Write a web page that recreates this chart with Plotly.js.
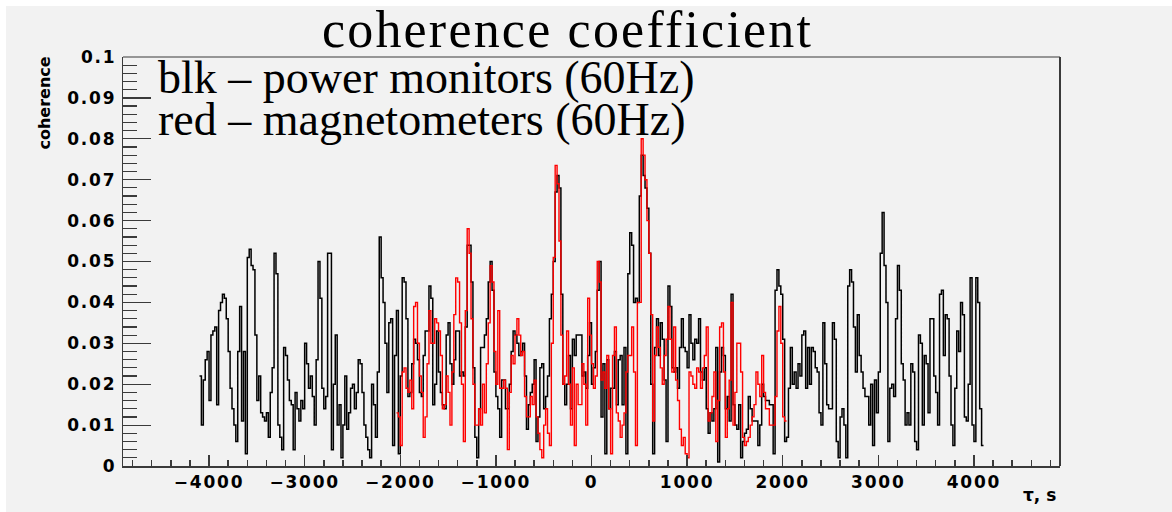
<!DOCTYPE html>
<html>
<head>
<meta charset="utf-8">
<script src="https://cdn.plot.ly/plotly-3.0.1.min.js"></script>
<style>
  html, body { margin: 0; padding: 0; background: #ffffff; }
  #chart { position: absolute; left: 0; top: 0; width: 1172px; height: 512px; }
  .edge { position: absolute; background: #ffffff; z-index: 5; }
  #edgeTop { left: 0; top: 0; width: 1172px; height: 6px; }
  #edgeLeft { left: 0; top: 0; width: 6px; height: 512px; }
  .xtick text, .ytick text { letter-spacing: 1.8px; }
  .annotation[data-index="0"] text { letter-spacing: 2.2px; }
</style>
</head>
<body>
<div id="chart"></div>
<div class="edge" id="edgeTop"></div>
<div class="edge" id="edgeLeft"></div>
<script>
// Histogram binning (seconds)
const binWidth = 20;
const blackStart = -4100;   // power monitors
const redStart = -2040;     // magnetometers

// Coherence per 20 s lag bin, power monitors (60 Hz)
const blackCoherence = [
  0.022, 0.010, 0.021, 0.026, 0.028, 0.016, 0.032, 0.033, 0.034, 0.015,
  0.038, 0.040, 0.042, 0.041, 0.036, 0.028, 0.019, 0.014, 0.010, 0.006,
  0.028, 0.039, 0.011, 0.028, 0.003, 0.051, 0.053, 0.049, 0.048, 0.032,
  0.016, 0.022, 0.013, 0.012, 0.011, 0.013, 0.007, 0.018, 0.024, 0.052,
  0.047, 0.010, 0.007, 0.004, 0.029, 0.027, 0.021, 0.016, 0.015, 0.004,
  0.018, 0.014, 0.011, 0.016, 0.014, 0.030, 0.025, 0.019, 0.022, 0.017,
  0.010, 0.026, 0.050, 0.041, 0.019, 0.014, 0.017, 0.052, 0.052, 0.004,
  0.020, 0.032, 0.010, 0.015, 0.002, 0.010, 0.022, 0.009, 0.013, 0.019,
  0.020, 0.014, 0.018, 0.026, 0.025, 0.018, 0.010, 0.007, 0.004, 0.002,
  0.020, 0.015, 0.007, 0.023, 0.056, 0.046, 0.040, 0.030, 0.018, 0.035,
  0.036, 0.005, 0.027, 0.038, 0.003, 0.022, 0.046, 0.045, 0.036, 0.017,
  0.018, 0.025, 0.031, 0.030, 0.026, 0.018, 0.017, 0.027, 0.033, 0.033,
  0.044, 0.041, 0.015, 0.020, 0.033, 0.023, 0.018, 0.015, 0.014, 0.032,
  0.035, 0.025, 0.020, 0.026, 0.033, 0.033, 0.022, 0.023, 0.022, 0.034,
  0.054, 0.054, 0.045, 0.024, 0.007, 0.002, 0.014, 0.029, 0.029, 0.032,
  0.036, 0.045, 0.050, 0.043, 0.023, 0.017, 0.014, 0.007, 0.021, 0.021,
  0.014, 0.014, 0.020, 0.028, 0.033, 0.032, 0.030, 0.027, 0.028, 0.030,
  0.022, 0.009, 0.015, 0.018, 0.020, 0.026, 0.006, 0.012, 0.024, 0.025,
  0.014, 0.017, 0.022, 0.036, 0.042, 0.050, 0.067, 0.071, 0.068, 0.042,
  0.020, 0.015, 0.020, 0.027, 0.014, 0.031, 0.027, 0.032, 0.032, 0.032,
  0.022, 0.023, 0.019, 0.027, 0.035, 0.020, 0.024, 0.028, 0.043, 0.050,
  0.012, 0.025, 0.003, 0.026, 0.014, 0.019, 0.019, 0.028, 0.015, 0.026,
  0.027, 0.015, 0.029, 0.003, 0.047, 0.057, 0.054, 0.040, 0.041, 0.040,
  0.066, 0.076, 0.071, 0.068, 0.063, 0.052, 0.020, 0.003, 0.029, 0.036,
  0.027, 0.035, 0.031, 0.021, 0.006, 0.044, 0.039, 0.024, 0.023, 0.024,
  0.019, 0.029, 0.036, 0.029, 0.028, 0.024, 0.037, 0.030, 0.026, 0.031,
  0.030, 0.036, 0.023, 0.021, 0.024, 0.014, 0.008, 0.013, 0.011, 0.014,
  0.029, 0.001, 0.023, 0.029, 0.027, 0.014, 0.017, 0.011, 0.042, 0.015,
  0.010, 0.009, 0.015, 0.002, 0.006, 0.008, 0.009, 0.017, 0.014, 0.011,
  0.011, 0.011, 0.005, 0.010, 0.020, 0.017, 0.016, 0.016, 0.015, 0.015,
  0.003, 0.043, 0.048, 0.044, 0.042, 0.031, 0.006, 0.007, 0.019, 0.029,
  0.020, 0.023, 0.019, 0.025, 0.022, 0.032, 0.033, 0.019, 0.029, 0.020,
  0.029, 0.028, 0.024, 0.023, 0.013, 0.010, 0.035, 0.025, 0.015, 0.014,
  0.014, 0.035, 0.031, 0.006, 0.002, 0.012, 0.014, 0.010, 0.002, 0.044,
  0.048, 0.045, 0.034, 0.023, 0.037, 0.027, 0.023, 0.019, 0.017, 0.017,
  0.010, 0.020, 0.005, 0.021, 0.013, 0.023, 0.052, 0.062, 0.049, 0.040,
  0.006, 0.019, 0.020, 0.017, 0.036, 0.049, 0.043, 0.025, 0.021, 0.010,
  0.013, 0.010, 0.025, 0.023, 0.006, 0.004, 0.032, 0.030, 0.010, 0.027,
  0.025, 0.013, 0.036, 0.036, 0.022, 0.018, 0.010, 0.042, 0.043, 0.027,
  0.037, 0.036, 0.022, 0.010, 0.005, 0.019, 0.033, 0.028, 0.040, 0.037,
  0.012, 0.011, 0.020, 0.046, 0.010, 0.006, 0.046, 0.040, 0.014, 0.005
];

// Coherence per 20 s lag bin, magnetometers (60 Hz)
const redCoherence = [
  0.013, 0.012, 0.005, 0.023, 0.024, 0.019, 0.018, 0.021, 0.014, 0.039,
  0.040, 0.030, 0.022, 0.018, 0.007, 0.012, 0.025, 0.038, 0.030, 0.030,
  0.036, 0.035, 0.033, 0.027, 0.014, 0.015, 0.022, 0.018, 0.010, 0.023,
  0.037, 0.046, 0.045, 0.035, 0.020, 0.006, 0.038, 0.058, 0.052, 0.036,
  0.020, 0.010, 0.010, 0.014, 0.010, 0.020, 0.013, 0.025, 0.035, 0.049,
  0.045, 0.028, 0.020, 0.038, 0.019, 0.019, 0.021, 0.019, 0.004, 0.018,
  0.027, 0.025, 0.032, 0.036, 0.032, 0.027, 0.028, 0.017, 0.012, 0.012,
  0.017, 0.015, 0.021, 0.012, 0.008, 0.004, 0.002, 0.010, 0.014, 0.008,
  0.005, 0.030, 0.051, 0.0735, 0.069, 0.055, 0.032, 0.020, 0.022, 0.033,
  0.020, 0.010, 0.024, 0.005, 0.020, 0.015, 0.015, 0.025, 0.020, 0.010,
  0.041, 0.032, 0.025, 0.019, 0.022, 0.050, 0.045, 0.021, 0.023, 0.019,
  0.027, 0.014, 0.003, 0.027, 0.034, 0.013, 0.011, 0.007, 0.010, 0.013,
  0.023, 0.027, 0.027, 0.034, 0.023, 0.005, 0.040, 0.040, 0.080, 0.076,
  0.070, 0.060, 0.052, 0.037, 0.011, 0.027, 0.034, 0.029, 0.024, 0.020,
  0.027, 0.031, 0.039, 0.031, 0.023, 0.034, 0.021, 0.016, 0.009, 0.005,
  0.007, 0.003, 0.002, 0.023, 0.022, 0.020, 0.019, 0.024, 0.023, 0.019,
  0.024, 0.027, 0.034, 0.011, 0.013, 0.017, 0.023, 0.006, 0.016, 0.034,
  0.035, 0.023, 0.007, 0.014, 0.021, 0.040, 0.010, 0.018, 0.030, 0.030,
  0.023, 0.007, 0.005, 0.006, 0.007, 0.010, 0.012, 0.015, 0.023, 0.020,
  0.017, 0.027, 0.018, 0.014, 0.014, 0.010, 0.010, 0.010, 0.017, 0.033,
  0.039, 0.030, 0.012, 0.011
];

const xTickValues = [-4000, -3000, -2000, -1000, 0, 1000, 2000, 3000, 4000];
const yTickValues = [0, 0.01, 0.02, 0.03, 0.04, 0.05, 0.06, 0.07, 0.08, 0.09, 0.1];

const titleText = 'coherence coefficient';
const legendLines = ['blk \u2013 power monitors (60Hz)', 'red \u2013 magnetometers (60Hz)'];
const xTitle = '\u03c4, s';
const yTitle = 'coherence';

// Histogram outline: bin edges with the last content repeated to close the final step
function histOutline(start, values) {
  const x = [], y = [];
  for (let k = 0; k < values.length; k++) {
    x.push(start + k * binWidth);
    y.push(values[k]);
  }
  x.push(start + values.length * binWidth);
  y.push(values[values.length - 1]);
  return { x, y };
}

const blk = histOutline(blackStart, blackCoherence);
const red = histOutline(redStart, redCoherence);

// Frame geometry (page px)
const pageW = 1172, pageH = 512;
const plotLeft = 123, plotTop = 57, plotW = 937, plotH = 409;
function fx(px) { return (px - plotLeft) / plotW; }
function fy(py) { return (plotTop + plotH - py) / plotH; }

const frameColor = '#3a3a3a';
const tickFont = { family: 'DejaVu Sans', size: 17, color: '#000000', weight: 'bold' };
const legendLineGap = 41.6;   // px between the two caption baselines

const traces = [
  {
    x: blk.x, y: blk.y, type: 'scatter', mode: 'lines',
    line: { shape: 'hv', color: '#000000', width: 1.5 },
    hoverinfo: 'skip'
  },
  {
    x: red.x, y: red.y, type: 'scatter', mode: 'lines',
    line: { shape: 'hv', color: '#ff0000', width: 1.4 },
    hoverinfo: 'skip'
  }
];

const layout = {
  width: pageW, height: pageH,
  margin: { l: plotLeft, r: pageW - plotLeft - plotW, t: plotTop, b: pageH - plotTop - plotH, pad: 0 },
  paper_bgcolor: '#f2f2f2',
  plot_bgcolor: '#f2f2f2',
  showlegend: false,
  xaxis: {
    range: [-4900, 4900],
    tickmode: 'array', tickvals: xTickValues,
    ticks: 'inside', ticklen: 11, tickwidth: 1.5, tickcolor: frameColor,
    minor: { ticks: 'inside', ticklen: 6, tickwidth: 1.5, tickcolor: frameColor, dtick: 200, tick0: 0 },
    showline: true, linecolor: frameColor, linewidth: 2,
    showgrid: false, zeroline: false,
    tickfont: tickFont,
    ticklabelstandoff: 0
  },
  yaxis: {
    range: [0, 0.1],
    tickmode: 'array', tickvals: yTickValues,
    ticks: 'inside', ticklen: 28, tickwidth: 1.2, tickcolor: frameColor,
    minor: { ticks: 'inside', ticklen: 14, tickwidth: 1.2, tickcolor: frameColor, dtick: 0.002, tick0: 0 },
    showline: true, linecolor: frameColor, linewidth: 1.2,
    showgrid: false, zeroline: false,
    tickfont: tickFont,
    ticklabelstandoff: 2
  },
  shapes: [
    { type: 'line', xref: 'paper', yref: 'paper', x0: 0, x1: 1, y0: 1, y1: 1, line: { color: frameColor, width: 1.2 } },
    { type: 'line', xref: 'paper', yref: 'paper', x0: 1, x1: 1, y0: 0, y1: 1, line: { color: frameColor, width: 2 } }
  ],
  annotations: [
    {
      text: titleText, xref: 'paper', yref: 'paper',
      x: fx(567.5), y: fy(29.6), xanchor: 'center', yanchor: 'middle', showarrow: false,
      font: { family: 'Liberation Serif', size: 52, color: '#000000' }
    },
    {
      text: legendLines.join('<br>'), xref: 'paper', yref: 'paper', align: 'left',
      x: fx(156), y: fy(49.6), xanchor: 'left', yanchor: 'top', showarrow: false,
      font: { family: 'Liberation Serif', size: 46, color: '#000000' }
    },
    {
      text: xTitle, xref: 'paper', yref: 'paper',
      x: fx(1058), y: fy(495), xanchor: 'right', yanchor: 'middle', showarrow: false,
      font: { family: 'DejaVu Sans', size: 17, color: '#000000', weight: 'bold' }
    },
    {
      text: yTitle, xref: 'paper', yref: 'paper',
      x: fx(44), y: fy(55), xanchor: 'center', yanchor: 'top', showarrow: false, textangle: -90,
      font: { family: 'DejaVu Sans', size: 16, color: '#000000', weight: 'bold' }
    }
  ]
};

Plotly.newPlot('chart', traces, layout, { staticPlot: true, displayModeBar: false }).then(function (gd) {
  // tighten the two caption lines to a fixed baseline gap
  const lines = gd.querySelectorAll('.annotation[data-index="1"] tspan.line');
  for (let i = 1; i < lines.length; i++) lines[i].setAttribute('dy', legendLineGap + 'px');
});
</script>
</body>
</html>
